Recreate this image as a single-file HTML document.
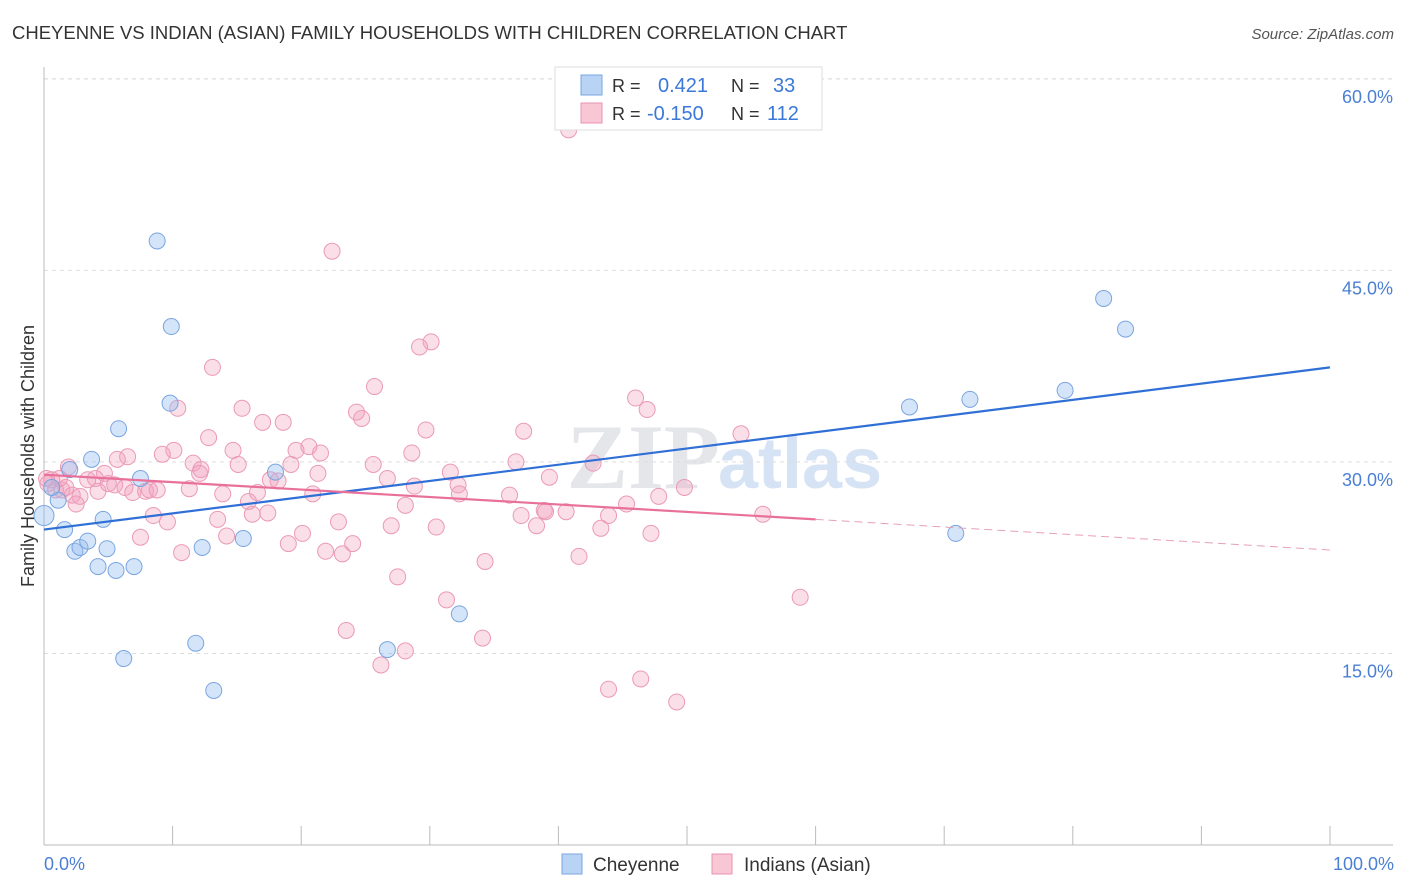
<!DOCTYPE html>
<html><head><meta charset="utf-8">
<style>
body{margin:0;background:#fff;font-family:"Liberation Sans",sans-serif;}
svg{display:block}
</style></head>
<body>
<svg id="chart" width="1406" height="892">
<text x="12" y="39" font-size="18.5" fill="#333">CHEYENNE VS INDIAN (ASIAN) FAMILY HOUSEHOLDS WITH CHILDREN CORRELATION CHART</text>
<text x="1394" y="39" font-size="15" fill="#555" font-style="italic" text-anchor="end">Source: ZipAtlas.com</text>
<text x="720" y="488" font-size="92" fill="#e4e6ea" text-anchor="end" font-family="Liberation Serif,serif" font-weight="bold">ZIP</text>
<text x="718" y="488" font-size="72" fill="#d6e3f5" font-weight="bold">atlas</text>
<g id="grid"></g>
<g id="axes"></g>
<g id="points"></g>
<g id="lines"></g>
<text transform="translate(34,456) rotate(-90)" font-size="18" fill="#333" text-anchor="middle">Family Households with Children</text>
<text x="44" y="870" font-size="18" fill="#4a7fd4">0.0%</text>
<text x="1394" y="870" font-size="18" fill="#4a7fd4" text-anchor="end">100.0%</text>
<g>
<rect x="555" y="67" width="267" height="63" fill="#fff" stroke="#ddd"/>
<rect x="581" y="75" width="21" height="20" fill="#b9d3f5" stroke="#7aa5e0"/>
<text x="612" y="92" font-size="18" fill="#333">R = </text><text x="658" y="92" font-size="20" fill="#3b78d8">0.421</text>
<text x="731" y="92" font-size="18" fill="#333">N = </text><text x="773" y="92" font-size="20" fill="#3b78d8">33</text>
<rect x="581" y="103" width="21" height="20" fill="#f8c6d5" stroke="#e993b0"/>
<text x="612" y="120" font-size="18" fill="#333">R = </text><text x="647" y="120" font-size="20" fill="#3b78d8">-0.150</text>
<text x="731" y="120" font-size="18" fill="#333">N = </text><text x="767" y="120" font-size="20" fill="#3b78d8">112</text>
</g>
<g>
<rect x="562" y="854" width="20" height="20" fill="#b9d3f5" stroke="#7aa5e0"/>
<text x="593" y="871" font-size="19" fill="#333">Cheyenne</text>
<rect x="712" y="854" width="20" height="20" fill="#f8c6d5" stroke="#e993b0"/>
<text x="744" y="871" font-size="19" fill="#333">Indians (Asian)</text>
</g>
</svg>
<script>
const yTicks=[15,30,45,60];
const yTickLabels=["15.0%","30.0%","45.0%","60.0%"];
const xTickVals=[0,10,20,30,40,50,60,70,80,90,100];
const blueX=[0,1.1,1.6,2.0,2.4,2.8,3.4,3.7,4.2,4.6,4.9,5.6,5.8,6.2,7.0,7.5,8.8,9.8,9.9,11.8,12.3,13.2,15.5,18.0,26.7,32.3,67.3,70.9,72.0,79.4,82.4,84.1,0.6];
const blueY=[25.8,27.0,24.7,29.4,23.0,23.3,23.8,30.2,21.8,25.5,23.2,21.5,32.6,14.6,21.8,28.7,47.3,34.6,40.6,15.8,23.3,12.1,24.0,29.2,15.3,18.1,34.3,24.4,34.9,35.6,42.8,40.4,28.0];
const pinkX=[40.8,22.4,30.1,29.2,13.1,25.7,10.4,15.4,46.0,46.9,24.3,24.7,17.0,18.6,29.7,37.3,54.2,12.8,10.1,9.2,14.7,6.5,5.7,19.6,20.6,21.5,28.6,15.1,11.6,12.2,12.1,19.2,25.6,36.7,42.7,1.9,4.7,4.0,3.4,21.3,31.6,26.7,39.3,17.6,18.2,32.2,49.8,0.2,0.6,0.9,1.4,1.7,2.2,2.8,2.5,4.2,5.0,5.5,6.3,6.9,7.9,8.2,8.8,11.3,13.9,16.6,20.9,28.8,32.3,36.2,15.9,28.1,47.8,45.3,8.5,9.6,13.5,16.2,17.4,22.9,27.0,30.5,37.1,38.3,39.0,40.6,38.9,43.9,43.3,47.2,55.9,7.5,14.2,20.1,19.0,10.7,21.9,23.2,24.0,41.6,34.3,27.5,31.3,58.8,23.5,34.1,28.1,26.2,43.9,46.4,49.2,0.3,1.2];
const pinkY=[56.0,46.5,39.4,39.0,37.4,35.9,34.2,34.2,35.0,34.1,33.9,33.4,33.1,33.1,32.5,32.4,32.2,31.9,30.9,30.6,30.9,30.4,30.2,30.9,31.2,30.7,30.7,29.8,29.9,29.4,29.1,29.8,29.8,30.0,29.9,29.6,29.1,28.7,28.6,29.1,29.2,28.7,28.8,28.6,28.5,28.2,28.0,28.7,28.6,27.8,27.8,28.0,27.4,27.3,26.7,27.7,28.3,28.2,28.0,27.6,27.7,27.8,27.8,27.9,27.5,27.6,27.5,28.1,27.5,27.4,26.9,26.6,27.3,26.7,25.8,25.3,25.5,25.9,26.0,25.3,25.0,24.9,25.8,25.0,26.1,26.1,26.2,25.8,24.8,24.4,25.9,24.1,24.2,24.4,23.6,22.9,23.0,22.8,23.6,22.6,22.2,21.0,19.2,19.4,16.8,16.2,15.2,14.1,12.2,13.0,11.2,28.3,28.7];
const blueLine=[24.7,37.4];
const pinkLine=[29.0,25.5,23.1];

const NS="http://www.w3.org/2000/svg";
const X=v=>44+v*12.86;
const Y=v=>845-v*12.77;
function mk(tag,attrs,parent){const e=document.createElementNS(NS,tag);for(const k in attrs)e.setAttribute(k,attrs[k]);parent.appendChild(e);return e;}
const gGrid=document.getElementById('grid'),gAxes=document.getElementById('axes'),gPts=document.getElementById('points'),gLines=document.getElementById('lines');
yTicks.forEach((t,i)=>{
  const l=mk('line',{x1:44,x2:1393,y1:Y(t),y2:Y(t),stroke:'#ddd','stroke-dasharray':'4,4'},gGrid);
  
  
  const tx=mk('text',{x:1393,y:Y(t)+24,'font-size':18,fill:'#4a7fd4','text-anchor':'end'},gGrid);
  tx.textContent=yTickLabels[i];
  
  
});
const topLine=mk('line',{x1:44,x2:1393,y1:79,y2:79,stroke:'#ddd','stroke-dasharray':'4,4'},gGrid);


const ya=mk('line',{x1:44,x2:44,y1:67,y2:845,stroke:'#bbb'},gAxes);


const xa=mk('line',{x1:44,x2:1393,y1:845,y2:845,stroke:'#bbb'},gAxes);


xTickVals.forEach(v=>{
  const t=mk('line',{x1:X(v),x2:X(v),y1:826,y2:845,stroke:'#bbb'},gAxes);
  
  
});
pinkX.forEach((x,i)=>{
  const c=mk('circle',{cx:X(x),cy:Y(pinkY[i]),r:8,fill:'rgba(242,160,188,0.35)',stroke:'#eb9ab5','stroke-width':1},gPts);
  
  
});
blueX.forEach((x,i)=>{
  const c=mk('circle',{cx:X(x),cy:Y(blueY[i]),r:(i==0?10:8),fill:'rgba(150,190,240,0.4)',stroke:'#7aa5e0','stroke-width':1},gPts);
  
  
});
const bl=mk('line',{x1:X(0),y1:Y(blueLine[0]),x2:X(100),y2:Y(blueLine[1]),stroke:'#2f6fd6','stroke-width':2.2},gLines);


const pl=mk('line',{x1:X(0),y1:Y(pinkLine[0]),x2:X(60),y2:Y(pinkLine[1]),stroke:'#e8709a','stroke-width':2.2},gLines);


const pd=mk('line',{x1:X(60),y1:Y(pinkLine[1]),x2:X(100),y2:Y(pinkLine[2]),stroke:'#e8a0b8','stroke-width':1,'stroke-dasharray':'8,5'},gLines);


</script>
</body></html>
